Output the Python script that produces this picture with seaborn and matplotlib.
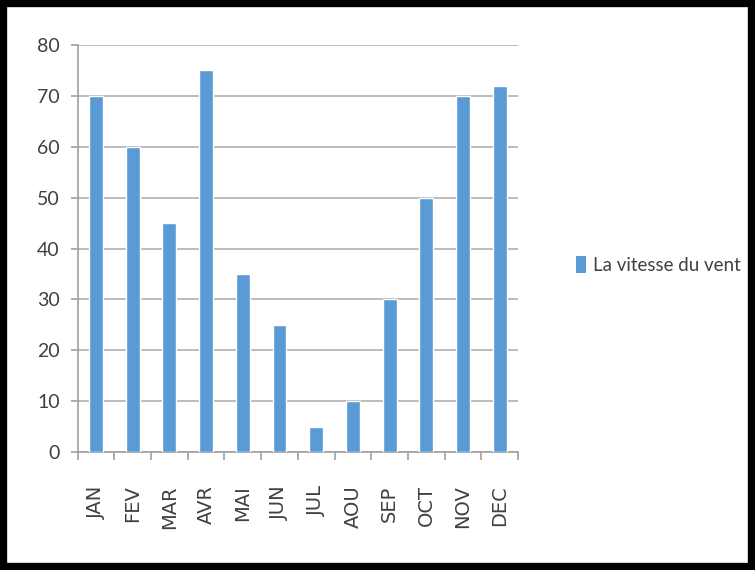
import pandas as pd
import numpy as np
import seaborn as sns
import matplotlib.pyplot as plt
from matplotlib.patches import Rectangle, Patch

months = ["JAN", "FEV", "MAR", "AVR", "MAI", "JUN", "JUL", "AOU", "SEP", "OCT", "NOV", "DEC"]
vitesse = [70, 60, 45, 75, 35, 25, 5, 10, 30, 50, 70, 72]
serie = "La vitesse du vent"

df = pd.DataFrame({"mois": months, "vitesse": vitesse})

sns.set_style("white")
plt.rcParams['font.family'] = ['Lato', 'DejaVu Sans']

fig = plt.figure(figsize=(7.55, 5.70), dpi=100)
ax = fig.add_axes([0.103, 0.207, 0.583, 0.714])

sns.barplot(x="mois", y="vitesse", data=df, color="#5b9bd5", width=0.38,
            saturation=1, ax=ax, zorder=3)

ax.set_ylim(0, 80)
ax.set_xlim(-0.5, 11.5)
ax.set_yticks(range(0, 81, 10))
ax.set_xlabel("")
ax.set_ylabel("")
ax.grid(axis="y", color="#b0b0b0", linewidth=1.2, zorder=0)
ax.set_axisbelow(True)

for s in ["top", "right"]:
    ax.spines[s].set_visible(False)
for s in ["left", "bottom"]:
    ax.spines[s].set_color("#a0a0a0")
    ax.spines[s].set_linewidth(1.2)

ax.tick_params(axis="y", labelsize=14, colors="#a0a0a0", length=5, width=1.2,
               direction="out", left=True, pad=8)
ax.set_yticklabels([str(v) for v in range(0, 81, 10)], color="#404040")

# x ticks between categories
ax.set_xticks(np.arange(-0.5, 12, 1), minor=True)
ax.tick_params(axis="x", which="minor", length=6, width=1.2, color="#a0a0a0",
               direction="out", bottom=True)
ax.tick_params(axis="x", which="major", length=0, pad=24)
ax.set_xticks(range(len(months)))
ax.set_xticklabels(months, rotation=90, fontfamily="DejaVu Sans", fontsize=14,
                   color="#404040")

fig.legend(handles=[Patch(facecolor="#5b9bd5", edgecolor="none", label=serie)],
           loc="center left", bbox_to_anchor=(0.74, 0.535), frameon=False,
           fontsize=13.5, handlelength=0.55, handleheight=1.0, handletextpad=0.4,
           labelcolor="#404040")

fig.patches.append(Rectangle((0.004, 0.005), 0.992, 0.99, transform=fig.transFigure,
                             fill=False, edgecolor="black", linewidth=6))

plt.savefig("out.png", dpi=100)
